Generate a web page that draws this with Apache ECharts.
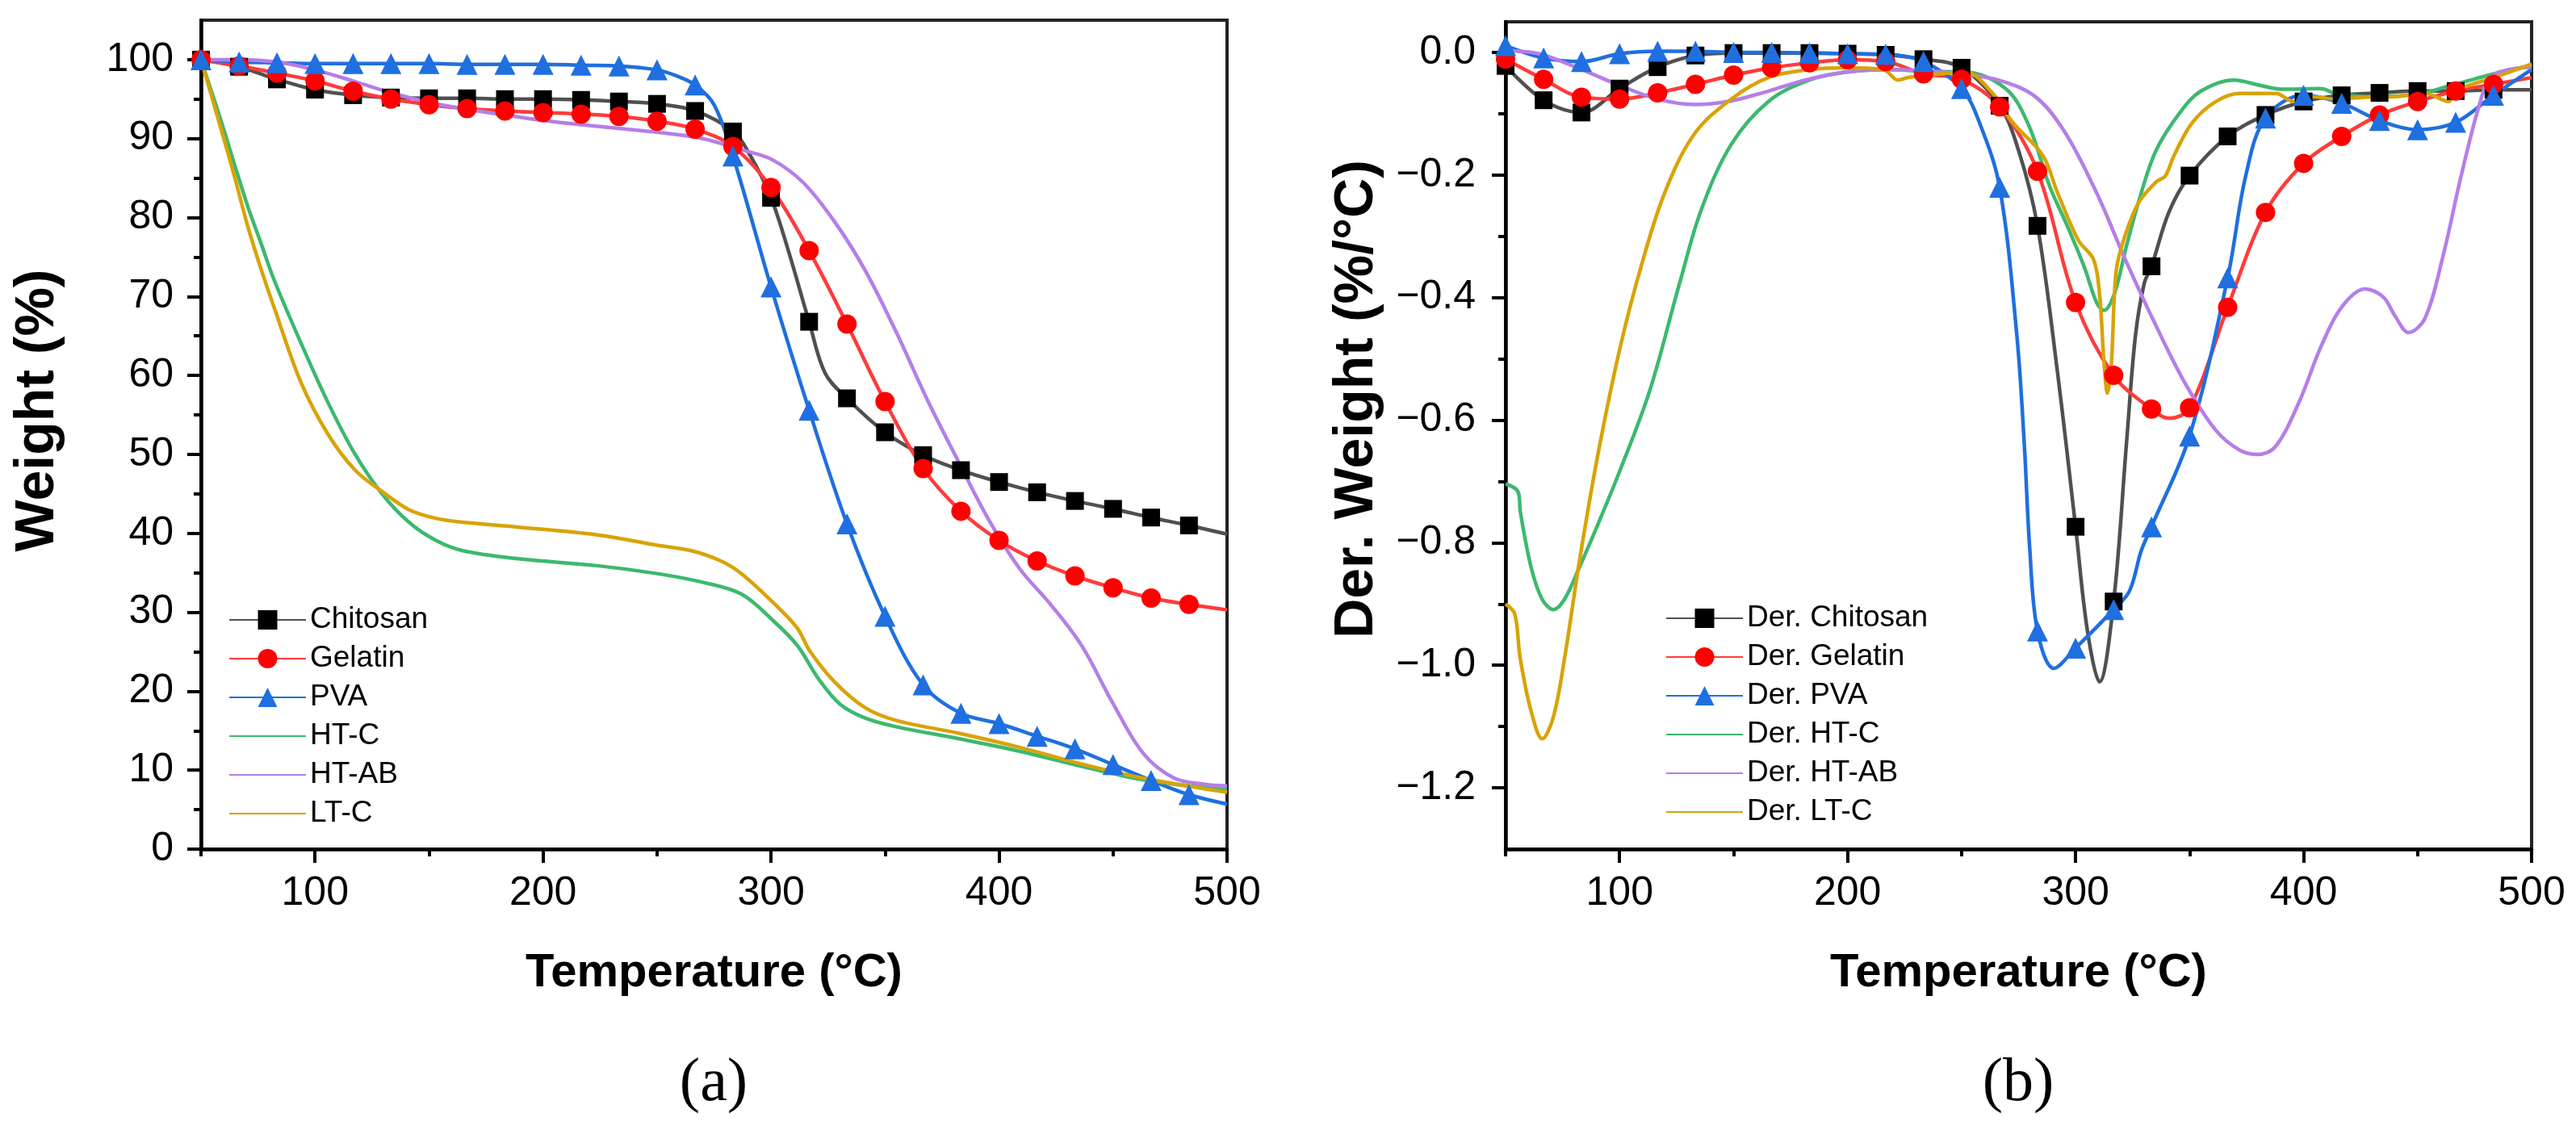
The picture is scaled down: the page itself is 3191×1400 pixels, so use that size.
<!DOCTYPE html>
<html>
<head>
<meta charset="utf-8">
<title>TGA / DTG</title>
<script src="https://cdn.jsdelivr.net/npm/echarts@6/dist/echarts.min.js"></script>
<style>
html, body { margin: 0; padding: 0; background: #fff; }
#chartmain { width: 3191px; height: 1400px; }
</style>
</head>
<body>
<div id="chartmain"></div>
<script>
// temperatures that carry a symbol (Origin skip points, every 50/3 °C)
var markT = [50, 66.7, 83.3, 100, 116.7, 133.3, 150, 166.7, 183.3, 200, 216.7, 233.3, 250,
    266.7, 283.3, 300, 316.7, 333.3, 350, 366.7, 383.3, 400, 416.7, 433.3, 450, 466.7, 483.3];

// tick labels
var tempTicks = [100, 200, 300, 400, 500];
var tempMinor = [50, 150, 250, 350, 450];
var weightTicks = [0, 10, 20, 30, 40, 50, 60, 70, 80, 90, 100];
var weightMinor = [5, 15, 25, 35, 45, 55, 65, 75, 85, 95];
var derTicks = [-1.2, -1.0, -0.8, -0.6, -0.4, -0.2, 0];
var derMinor = [-1.1, -0.9, -0.7, -0.5, -0.3, -0.1];

// (a) weight %, values at markT
var chitosanW = [100, 99.1, 97.5, 96.2, 95.5, 95.2, 95.1, 95.1, 95.0, 95.0, 94.9, 94.7, 94.4,
    93.5, 90.9, 82.5, 66.8, 57.1, 52.8, 49.9, 48.0, 46.5, 45.2, 44.1, 43.1, 42.0, 41.0];
var chitosanWx = [[291, 87.8], [307.5, 75.9], [323.7, 60.3], [500, 39.9]];
var gelatinW = [100, 99.2, 98.3, 97.3, 96.0, 95.0, 94.3, 93.8, 93.5, 93.3, 93.1, 92.8, 92.2,
    91.2, 89.0, 83.8, 75.8, 66.5, 56.7, 48.2, 42.8, 39.1, 36.5, 34.6, 33.1, 31.8, 31.0];
var gelatinWx = [[500, 30.3]];
var pvaW = [100, 99.7, 99.6, 99.5, 99.5, 99.5, 99.5, 99.4, 99.4, 99.4, 99.3, 99.2, 98.7,
    96.8, 87.8, 71.2, 55.6, 41.2, 29.5, 20.8, 17.2, 15.9, 14.3, 12.7, 10.7, 8.7, 6.9];
var pvaWx = [[258, 98.0], [275, 94.3], [500, 5.7]];
var htcW = [[50, 100], [58.5, 92.5], [64.4, 87.0], [70.4, 81.5], [76, 77.0], [82.2, 72.0], [94, 64.0],
    [105.8, 56.5], [117.6, 50.0], [129.4, 45.0], [141.2, 41.4], [153, 39.1], [164.8, 37.8],
    [188.4, 36.8], [223.8, 35.9], [250, 34.9], [270, 33.8], [287, 32.3], [300.7, 29.0],
    [311.5, 25.8], [321, 21.5], [330.5, 18.3], [341.3, 16.6], [354.9, 15.5], [382, 14.0],
    [409, 12.4], [436, 10.5], [463, 8.8], [500, 7.5]];
var htabW = [[50, 100], [66.7, 100], [83.3, 99.7], [100, 98.7], [116.7, 97.3], [133.3, 95.8],
    [150, 94.6], [166.7, 93.7], [183.3, 93.0], [200, 92.3], [223.8, 91.55], [250, 90.8],
    [270, 90.0], [287, 88.6], [300.7, 87.3], [314.2, 84.4], [327.8, 79.5], [341.3, 73.3],
    [354.9, 65.5], [368.4, 57.0], [382, 49.2], [395.5, 41.7], [409.1, 35.5], [422.6, 31.0],
    [436.2, 25.8], [449.7, 18.6], [463.3, 12.1], [476.8, 9.0], [490.4, 8.2], [500, 8.0]];
var ltcW = [[50, 100], [58.5, 91.5], [64.4, 85.5], [70.4, 79.0], [76.3, 73.5], [82.2, 68.5],
    [94, 59.0], [105.8, 52.5], [117.6, 48.0], [129.4, 45.3], [141.2, 43.0], [153, 41.9],
    [164.8, 41.4], [188.4, 40.8], [223.8, 39.8], [250, 38.5], [265, 37.8], [278, 36.5],
    [287, 34.9], [300.7, 31.3], [311.5, 28.0], [317, 25.1], [327.8, 21.2], [341.3, 17.9],
    [354.9, 16.3], [382, 14.7], [409, 12.9], [436, 10.8], [463, 9.0], [500, 7.2]];

// (b) derivative weight %/°C, values at markT
var chitosanD = [-0.022, -0.078, -0.098, -0.059, -0.024, -0.005, -0.001, -0.001, -0.001, -0.002,
    -0.004, -0.011, -0.025, -0.087, -0.283, -0.774, -0.896, -0.349, -0.201, -0.137, -0.102,
    -0.080, -0.070, -0.066, -0.063, -0.063, -0.061];
var chitosanDx = [[275, -0.16], [292, -0.52], [305.2, -0.944], [310.5, -1.027], [322.3, -0.639],
    [326.2, -0.464], [330.1, -0.377], [341, -0.26], [500, -0.061]];
var gelatinD = [-0.011, -0.044, -0.073, -0.076, -0.066, -0.052, -0.037, -0.025, -0.017, -0.012,
    -0.015, -0.035, -0.044, -0.089, -0.194, -0.408, -0.527, -0.582, -0.580, -0.416, -0.261,
    -0.181, -0.137, -0.102, -0.080, -0.063, -0.052];
var gelatinDx = [[341.3, -0.597], [500, -0.041]];
var pvaD = [0.011, -0.009, -0.015, -0.002, 0.002, 0.002, 0.000, 0.000, -0.001, -0.002, -0.003,
    -0.015, -0.059, -0.22, -0.944, -0.972, -0.909, -0.774, -0.626, -0.368, -0.107, -0.070,
    -0.083, -0.111, -0.126, -0.114, -0.070];
var pvaDx = [[258, -0.116], [274.2, -0.46], [277.5, -0.639], [279.9, -0.81], [290.5, -1.005],
    [323.6, -0.879], [328.8, -0.813], [374.7, -0.2], [500, -0.028]];
var htcD = [[50, -0.704], [55.5, -0.717], [56.5, -0.75], [61.2, -0.84], [66, -0.892], [71, -0.909],
    [75.9, -0.892], [82.4, -0.84], [90.5, -0.77], [100.2, -0.682], [113.3, -0.551], [126.3, -0.377],
    [136, -0.255], [149, -0.150], [165.3, -0.080], [183.2, -0.045], [199.4, -0.032], [219, -0.028],
    [235.2, -0.031], [251.5, -0.032], [269.3, -0.059], [279, -0.115], [288.8, -0.22], [296, -0.28],
    [303.9, -0.351], [309.2, -0.408], [312.4, -0.421], [317, -0.394], [322.3, -0.316],
    [328.8, -0.229], [335.4, -0.159], [345.8, -0.098], [355, -0.063], [369.4, -0.045],
    [381.2, -0.054], [390.4, -0.06], [407.4, -0.059], [414, -0.067], [427, -0.072],
    [446.7, -0.07], [466.3, -0.052], [483.4, -0.035], [500, -0.021]];
var htabD = [[50, 0.003], [64.5, -0.002], [80.8, -0.024], [100.2, -0.054], [116.5, -0.076],
    [132.8, -0.085], [149, -0.079], [165.3, -0.063], [181.5, -0.045], [199.4, -0.032],
    [217.3, -0.028], [233.6, -0.030], [249.8, -0.035], [266.1, -0.045], [282.3, -0.072],
    [295.3, -0.13], [309.2, -0.229], [322.3, -0.342], [335.4, -0.447], [348.5, -0.543],
    [361.6, -0.617], [372, -0.649], [379.9, -0.656], [387.7, -0.643], [398.2, -0.569],
    [407.4, -0.482], [416.6, -0.416], [427, -0.386], [434.9, -0.399], [440.1, -0.43],
    [446, -0.457], [453.2, -0.434], [461.1, -0.333], [469, -0.203], [476.8, -0.089],
    [482, -0.041], [490, -0.028], [500, -0.024]];
var ltcD = [[50, -0.9], [54, -0.916], [56.4, -0.988], [61.2, -1.075], [66.1, -1.12], [71, -1.084],
    [75.9, -0.988], [82.4, -0.83], [90.5, -0.656], [100.2, -0.482], [110, -0.342], [119.8, -0.229],
    [132.8, -0.133], [149, -0.076], [165.3, -0.041], [183.2, -0.028], [199.4, -0.025],
    [215.7, -0.028], [222.2, -0.045], [226.5, -0.041], [235.2, -0.037], [251.5, -0.032],
    [262.8, -0.063], [272.6, -0.115], [285.6, -0.168], [292.1, -0.229], [301.3, -0.307],
    [307.9, -0.338], [310.5, -0.394], [312.5, -0.508], [314, -0.556], [315.7, -0.508],
    [317.7, -0.36], [321, -0.307], [327.5, -0.246], [335.4, -0.211], [339.3, -0.202],
    [343.2, -0.168], [351.1, -0.115], [361.6, -0.08], [372, -0.067], [387.8, -0.067],
    [395.6, -0.08], [403.4, -0.072], [414, -0.076], [427, -0.073], [440.1, -0.072],
    [453.2, -0.067], [463.7, -0.08], [466.3, -0.063], [483.4, -0.041], [500, -0.019]];

var FONT = 'Liberation Sans, Arial, sans-serif';

// symbol on the skip points, plain line on the extra points in between
function marked(vals, extra) {
    var pts = [];
    for (var i = 0; i < markT.length; i++) {
        pts.push({ value: [markT[i], vals[i]] });
    }
    for (var j = 0; j < extra.length; j++) {
        pts.push({ value: extra[j], symbol: 'none' });
    }
    pts.sort(function (a, b) { return a.value[0] - b.value[0]; });
    return pts;
}

function line(name, data, color, lineColor, symbol, size, idx) {
    return {
        name: name,
        type: 'line',
        xAxisIndex: idx,
        yAxisIndex: idx,
        data: data,
        smooth: 0.35,
        symbol: symbol || 'none',
        symbolSize: size || 0,
        showAllSymbol: true,
        itemStyle: { color: color },
        lineStyle: { color: lineColor, width: 4.5 },
        emphasis: { disabled: true }
    };
}

function majorX(grid) {
    return {
        type: 'value', gridIndex: grid, min: 50, max: 500, position: 'bottom',
        name: 'Temperature (°C)', nameLocation: 'middle', nameGap: 125,
        nameTextStyle: { fontFamily: FONT, fontSize: 58, fontWeight: 'bold', color: '#000' },
        axisLine: { show: true, onZero: false, lineStyle: { color: '#000', width: 4.5 } },
        axisTick: { show: true, length: 17, lineStyle: { color: '#000', width: 4 }, customValues: tempTicks },
        axisLabel: { fontFamily: FONT, fontSize: 50, color: '#000', margin: 30, customValues: tempTicks },
        splitLine: { show: false }
    };
}

function minorX(grid) {
    return {
        type: 'value', gridIndex: grid, min: 50, max: 500, position: 'bottom',
        axisLine: { show: false, onZero: false },
        axisTick: { show: true, length: 9, lineStyle: { color: '#000', width: 4 }, customValues: tempMinor },
        axisLabel: { show: false },
        splitLine: { show: false }
    };
}

// lift shifts the rotated name towards the top of the axis
function majorY(grid, min, max, ticks, name, fmt, margin, gap, lift) {
    return {
        type: 'value', gridIndex: grid, min: min, max: max, position: 'left',
        name: name, nameLocation: 'middle', nameGap: gap, nameRotate: 90,
        nameTextStyle: { fontFamily: FONT, fontSize: 68, fontWeight: 'bold', color: '#000', padding: [0, 0, 0, lift] },
        axisLine: { show: true, onZero: false, lineStyle: { color: '#000', width: 4.5 } },
        axisTick: { show: true, length: 17, lineStyle: { color: '#000', width: 4 }, customValues: ticks },
        axisLabel: { fontFamily: FONT, fontSize: 50, color: '#000', margin: margin, customValues: ticks, formatter: fmt },
        splitLine: { show: false }
    };
}

function minorY(grid, min, max, minor) {
    return {
        type: 'value', gridIndex: grid, min: min, max: max, position: 'left',
        axisLine: { show: false, onZero: false },
        axisTick: { show: true, length: 9, lineStyle: { color: '#000', width: 4 }, customValues: minor },
        axisLabel: { show: false },
        splitLine: { show: false }
    };
}

function legendItems(names, plain) {
    return names.map(function (n, i) {
        return i < plain ? { name: n } : { name: n, itemStyle: { opacity: 0 } };
    });
}

var namesA = ['Chitosan', 'Gelatin', 'PVA', 'HT-C', 'HT-AB', 'LT-C'];
var namesB = ['Der. Chitosan', 'Der. Gelatin', 'Der. PVA', 'Der. HT-C', 'Der. HT-AB', 'Der. LT-C'];
var legendText = { fontFamily: FONT, fontSize: 37, lineHeight: 38, color: '#000' };

var option = {
    animation: false,
    backgroundColor: '#fff',
    grid: [
        { left: 249, width: 1271, top: 25, height: 1027, show: true, borderColor: '#222', borderWidth: 4, backgroundColor: 'transparent' },
        { left: 1865, width: 1271, top: 27, height: 1025, show: true, borderColor: '#222', borderWidth: 4, backgroundColor: 'transparent' }
    ],
    xAxis: [majorX(0), minorX(0), majorX(1), minorX(1)],
    yAxis: [
        majorY(0, 0, 105, weightTicks, 'Weight (%)', function (v) { return String(v); }, 34, 168, 60),
        minorY(0, 0, 105, weightMinor),
        majorY(1, -1.3, 0.05, derTicks, 'Der. Weight (%/°C)', function (v) {
            return Math.abs(v) < 1e-9 ? '0.0' : '\u2212' + Math.abs(v).toFixed(1);
        }, 37, 150, 90),
        minorY(1, -1.3, 0.05, derMinor)
    ],
    legend: [
        { orient: 'vertical', left: 278, top: 744, itemWidth: 95, itemHeight: 30, itemGap: 10,
          textStyle: legendText, selectedMode: false, data: legendItems(namesA, 3) },
        { orient: 'vertical', left: 2058, top: 742, itemWidth: 95, itemHeight: 30, itemGap: 10,
          textStyle: legendText, selectedMode: false, data: legendItems(namesB, 3) }
    ],
    graphic: [
        { type: 'text', x: 884, y: 1343, style: { text: '(a)', fontFamily: 'Liberation Serif, Times New Roman, serif', fontSize: 76, fill: '#000', align: 'center', verticalAlign: 'middle' } },
        { type: 'text', x: 2500, y: 1343, style: { text: '(b)', fontFamily: 'Liberation Serif, Times New Roman, serif', fontSize: 76, fill: '#000', align: 'center', verticalAlign: 'middle' } }
    ],
    series: [
        line('Chitosan', marked(chitosanW, chitosanWx), '#000', '#505050', 'rect', 22, 0),
        line('Gelatin', marked(gelatinW, gelatinWx), '#ff0000', '#ff3b3b', 'circle', 24, 0),
        line('PVA', marked(pvaW, pvaWx), '#1f6fe0', '#1f6fe0', 'triangle', 26, 0),
        line('HT-C', htcW, '#3cb96e', '#3cb96e', null, 0, 0),
        line('HT-AB', htabW, '#b57ee8', '#b57ee8', null, 0, 0),
        line('LT-C', ltcW, '#d9a306', '#d9a306', null, 0, 0),
        line('Der. Chitosan', marked(chitosanD, chitosanDx), '#000', '#505050', 'rect', 22, 2),
        line('Der. Gelatin', marked(gelatinD, gelatinDx), '#ff0000', '#ff3b3b', 'circle', 24, 2),
        line('Der. PVA', marked(pvaD, pvaDx), '#1f6fe0', '#1f6fe0', 'triangle', 26, 2),
        line('Der. HT-C', htcD, '#3cb96e', '#3cb96e', null, 0, 2),
        line('Der. HT-AB', htabD, '#b57ee8', '#b57ee8', null, 0, 2),
        line('Der. LT-C', ltcD, '#d9a306', '#d9a306', null, 0, 2)
    ]
};

var myChart = echarts.init(document.getElementById('chartmain'));
myChart.setOption(option);
</script>
</body>
</html>
